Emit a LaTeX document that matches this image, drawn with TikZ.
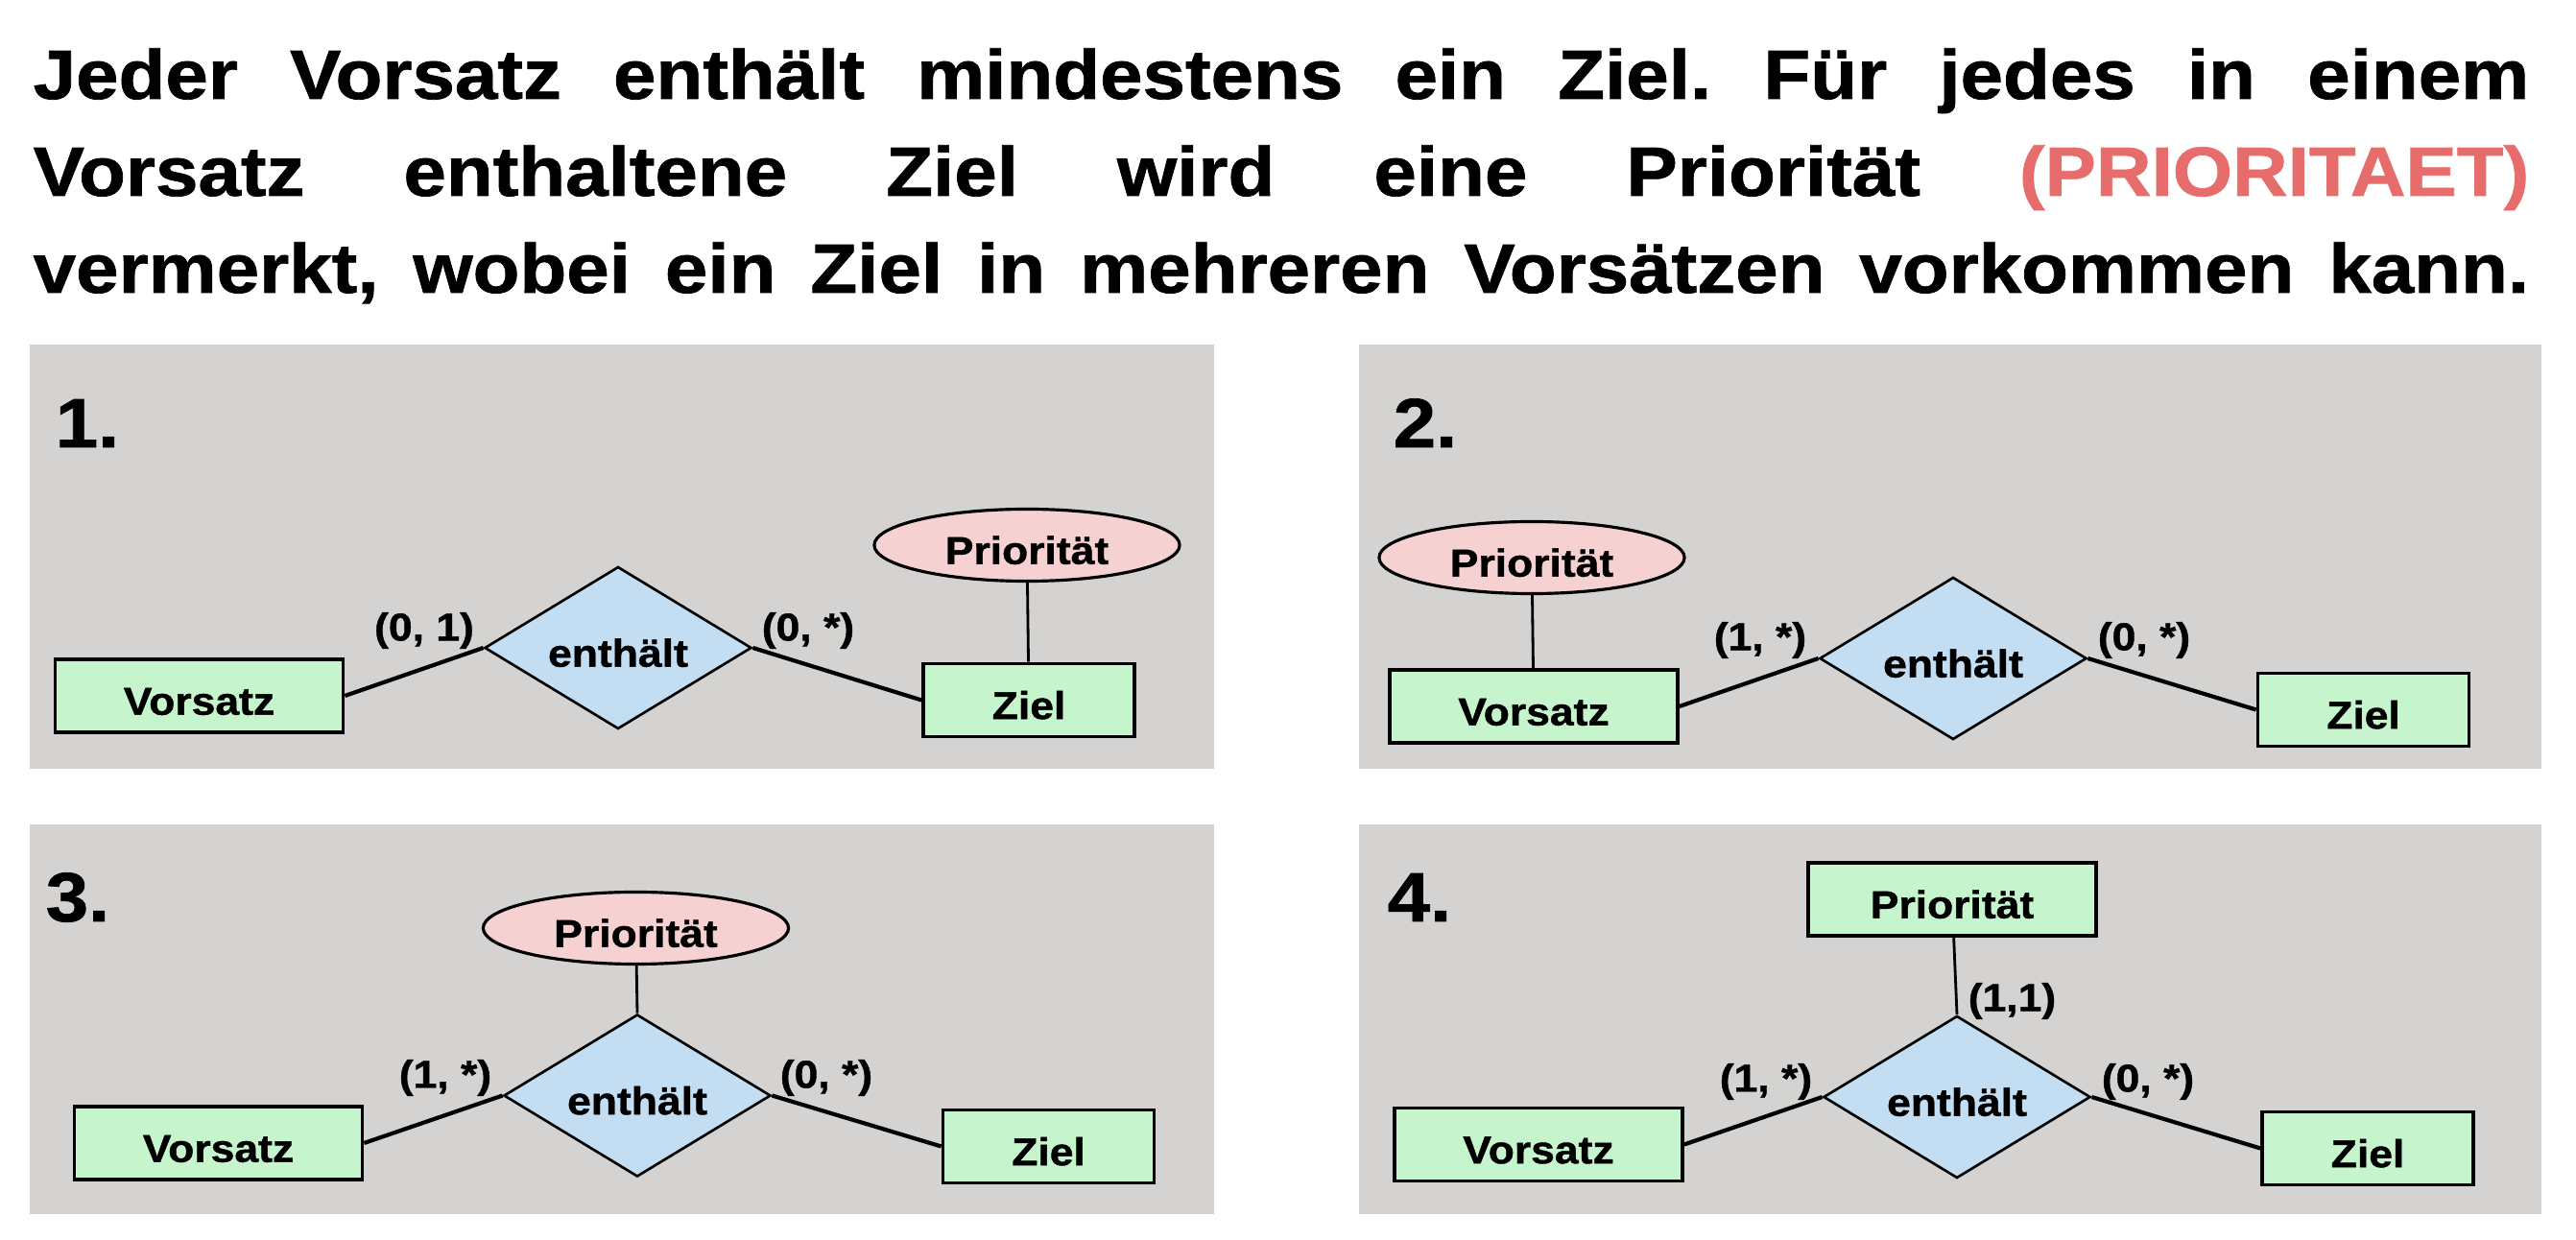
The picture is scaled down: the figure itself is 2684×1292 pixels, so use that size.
\documentclass[tikz,border=0pt]{standalone}
\usepackage{fontspec}
\setmainfont{Liberation Sans}[FakeStretch=1.1, FakeBold=1]
\usetikzlibrary{shapes.geometric}

\definecolor{panelgray}{HTML}{D4D3D1}
\definecolor{entgreen}{HTML}{C6F5CD}
\definecolor{relblue}{HTML}{C3DEF3}
\definecolor{attpink}{HTML}{F6D1D2}
\definecolor{prioRed}{HTML}{E76D6D}

\newcommand{\bigtext}{\fontsize{20.66}{24}\selectfont\bfseries}
\newcommand{\ertext}{\fontsize{11.5}{13}\selectfont\bfseries}

\begin{document}
\frenchspacing
\begin{tikzpicture}[
    x=0.01cm, y=-0.01cm,
    panel/.style={fill=panelgray, draw=none},
    headline/.style={anchor=base west, inner sep=0pt, font=\bigtext},
    num/.style={anchor=base west, inner sep=0pt, font=\bigtext},
    entity/.style={draw, line width=1pt, fill=entgreen, minimum width=3cm,
                   minimum height=0.76cm, inner sep=0pt, font=\ertext,
                   text height=1.12em, text depth=0pt},
    smallentity/.style={entity, minimum width=2.2cm},
    relation/.style={draw, diamond, aspect=1.65, line width=0.75pt, fill=relblue,
                     minimum width=2.78cm, minimum height=1.69cm, inner sep=0pt, font=\ertext,
                     text height=1.12em, text depth=0pt},
    attrib/.style={draw, ellipse, line width=0.9pt, fill=attpink, minimum width=3.18cm,
                   minimum height=0.75cm, inner sep=0pt, font=\ertext,
                   text height=1.12em, text depth=0pt},
    card/.style={inner sep=0pt, font=\ertext},
    rel/.style={line width=1.2pt},
    att/.style={line width=0.8pt},
]
\fill[white] (0,0) rectangle (2684,1292);
\useasboundingbox (0,0) rectangle (2684,1292);

% Aufgabe
\node[headline] (t1) at (34,103)
    {\makebox[25.99cm][s]{Jeder Vorsatz enthält mindestens ein Ziel. Für jedes in einem}};
\node[headline] (t2) at (34,204)
    {\makebox[25.99cm][s]{Vorsatz enthaltene Ziel wird eine Priorität {\color{prioRed}(PRIORITAET)}}};
\node[headline] (t3) at (34,305)
    {\makebox[25.99cm][s]{vermerkt, wobei ein Ziel in mehreren Vorsätzen vorkommen kann.}};

% Hintergruende
\fill[panel] (31,359) rectangle (1265,801);
\fill[panel] (1416,359) rectangle (2648,801);
\fill[panel] (31,859) rectangle (1265,1265);
\fill[panel] (1416,859) rectangle (2648,1265);

% 1.
\node[num] (n1) at (57,466) {1.};
\node[entity] (vor1) at (207.5,725) {Vorsatz};
\node[relation] (rel1) at (644,675) {enthält};
\node[smallentity] (ziel1) at (1072,729.5) {Ziel};
\node[attrib] (prio1) at (1070,568) {Priorität};
\draw[rel] (vor1.east) -- (rel1.west);
\draw[rel] (rel1.east) -- (ziel1.west);
\draw[att] (prio1) -- (ziel1);
\node[card] (c1a) at (442,657) {(0, 1)};
\node[card] (c1b) at (842,657) {(0, *)};

% 2.
\node[num] (n2) at (1451,466) {2.};
\node[entity] (vor2) at (1598,736) {Vorsatz};
\node[relation] (rel2) at (2035,686) {enthält};
\node[smallentity] (ziel2) at (2462.5,739.5) {Ziel};
\node[attrib] (prio2) at (1596,581) {Priorität};
\draw[rel] (vor2.east) -- (rel2.west);
\draw[rel] (rel2.east) -- (ziel2.west);
\draw[att] (prio2) -- (vor2);
\node[card] (c2a) at (1834,667) {(1, *)};
\node[card] (c2b) at (2234,667) {(0, *)};

% 3.
\node[num] (n3) at (47,960) {3.};
\node[entity] (vor3) at (227.5,1191) {Vorsatz};
\node[relation] (rel3) at (664,1141.5) {enthält};
\node[smallentity] (ziel3) at (1092.5,1194.5) {Ziel};
\node[attrib] (prio3) at (662.5,967) {Priorität};
\draw[rel] (vor3.east) -- (rel3.west);
\draw[rel] (rel3.east) -- (ziel3.west);
\draw[att] (prio3) -- (rel3.north);
\node[card] (c3a) at (464,1123) {(1, *)};
\node[card] (c3b) at (861,1123) {(0, *)};

% 4.
\node[num] (n4) at (1445,960) {4.};
\node[entity] (vor4) at (1603,1192.5) {Vorsatz};
\node[relation] (rel4) at (2039,1143) {enthält};
\node[smallentity] (ziel4) at (2467,1196.5) {Ziel};
\node[entity] (prio4) at (2034,937) {Priorität};
\draw[rel] (vor4.east) -- (rel4.west);
\draw[rel] (rel4.east) -- (ziel4.west);
\draw[att] (prio4) -- (rel4.north);
\node[card] (c4a) at (1840,1127) {(1, *)};
\node[card] (c4b) at (2238,1127) {(0, *)};
\node[card] (c4c) at (2096.5,1043) {(1,1)};

\end{tikzpicture}
\end{document}
